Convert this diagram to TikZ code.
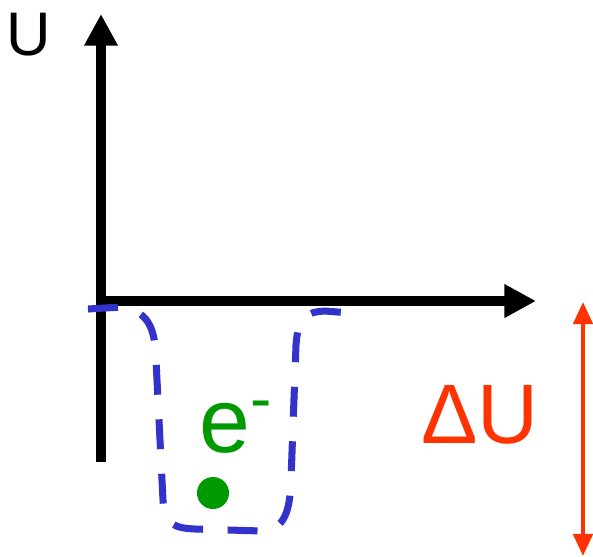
\documentclass[tikz,border=0pt]{standalone}
\usepackage{fontspec}
\setmainfont{Liberation Sans}
\usetikzlibrary{arrows.meta}
\definecolor{wellblue}{HTML}{3333CC}
\definecolor{elecgreen}{HTML}{009900}
\definecolor{gapred}{HTML}{FF3300}
\begin{document}
\begin{tikzpicture}[x=0.01cm, y=-0.01cm, every node/.style={inner sep=0pt}]
    \useasboundingbox (0,0) rectangle (593,556);
    \coordinate (ybot) at (101,462);
    \coordinate (ytop) at (101,14);
    \coordinate (xleft) at (96,301);
    \coordinate (xright) at (536,301);
    \draw[line width=2.85pt, -{Triangle[length=9pt, width=9pt]}] (ybot) -- (ytop);
    \draw[line width=2.85pt, -{Triangle[length=9pt, width=9pt]}] (xleft) -- (xright);
    \node[anchor=base, font=\fontsize{17.5}{20}\selectfont] (ulabel) at (29,55) {U};
    % potential well
    \draw[wellblue, line width=2pt, dash pattern=on 8.5pt off 7pt]
        (88,309) -- (122,307) .. controls (150,312) and (155,330) .. (156,360)
        -- (163,500) .. controls (164,525) and (175,528) .. (195,529)
        -- (262,531) .. controls (285,530) and (290,510) .. (291,480)
        -- (296,345) .. controls (298,318) and (305,312) .. (325,311) -- (350,313);
    \node[anchor=base west, elecgreen, font=\fontsize{26}{30}\selectfont] (elabel) at (199,452) {e\textsuperscript{-}};
    \node[circle, fill=elecgreen, minimum size=0.32cm] (electron) at (213,493) {};
    % depth of the well
    \coordinate (gaptop) at (583,302);
    \coordinate (gapbot) at (583,556);
    \draw[gapred, line width=1.15pt, {Triangle[length=6.3pt, width=5.5pt]}-{Triangle[length=6.3pt, width=5.5pt]}] (gaptop) -- (gapbot);
    \node[anchor=base, gapred, font=\fontsize{24}{28}\selectfont] (deltau) at (480,443) {ΔU};
\end{tikzpicture}
\end{document}
